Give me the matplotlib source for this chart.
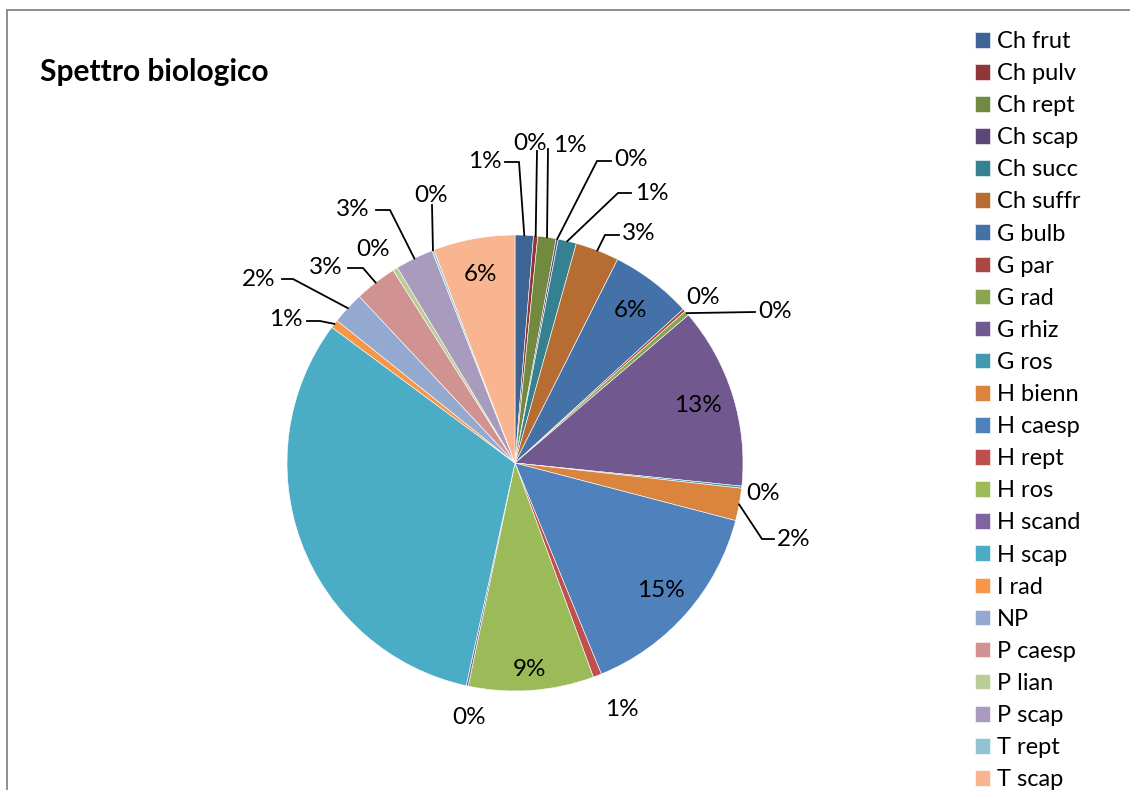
import numpy as np
import matplotlib
matplotlib.use("Agg")
import matplotlib.pyplot as plt
from matplotlib.patches import Rectangle

W, H = 1130, 790

categories = ["Ch frut", "Ch pulv", "Ch rept", "Ch scap", "Ch succ", "Ch suffr",
              "G bulb", "G par", "G rad", "G rhiz", "G ros", "H bienn",
              "H caesp", "H rept", "H ros", "H scand", "H scap", "I rad",
              "NP", "P caesp", "P lian", "P scap", "T rept", "T scap"]
values = [1.3, 0.3, 1.3, 0.15, 1.3, 3.1,
          5.8, 0.2, 0.35, 12.9, 0.15, 2.3,
          14.8, 0.6, 8.9, 0.15, 31.8, 0.6,
          2.3, 3.0, 0.35, 2.7, 0.15, 5.8]
colors = ["#3c6494", "#8d3836", "#718a40", "#5c4877", "#358091", "#b76c31",
          "#4571a9", "#aa4644", "#89a54e", "#71588f", "#4298af", "#db843d",
          "#4f81bd", "#c0504d", "#9bbb59", "#8064a2", "#4bacc6", "#f79646",
          "#93a9cf", "#d19392", "#b9cd96", "#a99bbd", "#92c3d5", "#f9b590"]

# labels drawn inside the slice: radius fraction
inner_labels = {"G bulb": 0.84, "G rhiz": 0.84, "H caesp": 0.85,
                "H ros": 0.91, "T scap": 0.84}
# labels outside: text centre and leader elbow points (pixels, from top left)
outer_labels = {
    "Ch frut": ((485, 162), [(505, 162), (519, 162)]),
    "Ch pulv": ((530, 144), [(537, 151)]),
    "Ch rept": ((570, 145), [(548, 149)]),
    "Ch scap": ((631, 160), [(611, 161), (597, 161)]),
    "Ch succ": ((652, 193), [(631, 193), (618, 193)]),
    "Ch suffr": ((639, 234), [(619, 235), (605, 235)]),
    "G par": ((703, 297), []),
    "G rad": ((775, 311), [(755, 312)]),
    "G ros": ((763, 494), []),
    "H bienn": ((794, 539), [(774, 539), (762, 539)]),
    "H rept": ((622, 710), []),
    "H scand": ((469, 717), []),
    "I rad": ((286, 320), [(307, 321), (320, 321)]),
    "NP": ((259, 279), [(282, 279), (293, 279)]),
    "P caesp": ((326, 267), [(348, 268), (363, 268)]),
    "P lian": ((373, 250), []),
    "P scap": ((353, 209), [(376, 210), (390, 210)]),
    "T rept": ((431, 195), [(432, 205)]),
}

plt.rcParams["font.family"] = ["Lato", "DejaVu Sans"]

fig = plt.figure(figsize=(W / 100, H / 100), dpi=100)
ax = fig.add_axes([0, 0, 1, 1])

cx, cy, R = 515, H - 463, 228
wedges, _ = ax.pie(values, colors=colors, startangle=90, counterclock=False,
                   center=(cx, cy), radius=R,
                   wedgeprops=dict(edgecolor="white", linewidth=0.4))
ax.set_xlim(0, W)
ax.set_ylim(0, H)
ax.set_aspect("equal")
ax.axis("off")

total = sum(values)
for name, v, w in zip(categories, values, wedges):
    txt = "%d%%" % round(v / total * 100)
    ang = np.deg2rad((w.theta1 + w.theta2) / 2)
    if name in inner_labels:
        r = R * inner_labels[name]
        ax.text(cx + r * np.cos(ang), cy + r * np.sin(ang), txt,
                ha="center", va="center", fontsize=17.5)
    elif name in outer_labels:
        (tx, ty), pts = outer_labels[name]
        ax.text(tx, H - ty, txt, ha="center", va="center", fontsize=17.5)
        if pts:
            xs = [p[0] for p in pts] + [cx + R * np.cos(ang)]
            ys = [H - p[1] for p in pts] + [cy + R * np.sin(ang)]
            ax.plot(xs, ys, color="black", lw=1.3, solid_joinstyle="miter")

fig.text(40 / W, 1 - 72 / H, "Spettro biologico", fontsize=21.5,
         fontweight="bold", va="center", ha="left")

fig.legend(wedges, categories, loc="upper left",
           bbox_to_anchor=(975 / W, 1 - 31 / H), frameon=False, fontsize=17,
           handlelength=0.64, handleheight=0.64, handletextpad=0.3,
           labelspacing=0.47, borderpad=0, borderaxespad=0)

# chart area border, open to the right and bottom
fig.add_artist(Rectangle((7 / W, -0.1), 2, 1.1 - 10 / H, transform=fig.transFigure,
                         fill=False, edgecolor="#868686", lw=1.3))

fig.savefig("out.png", dpi=100)
